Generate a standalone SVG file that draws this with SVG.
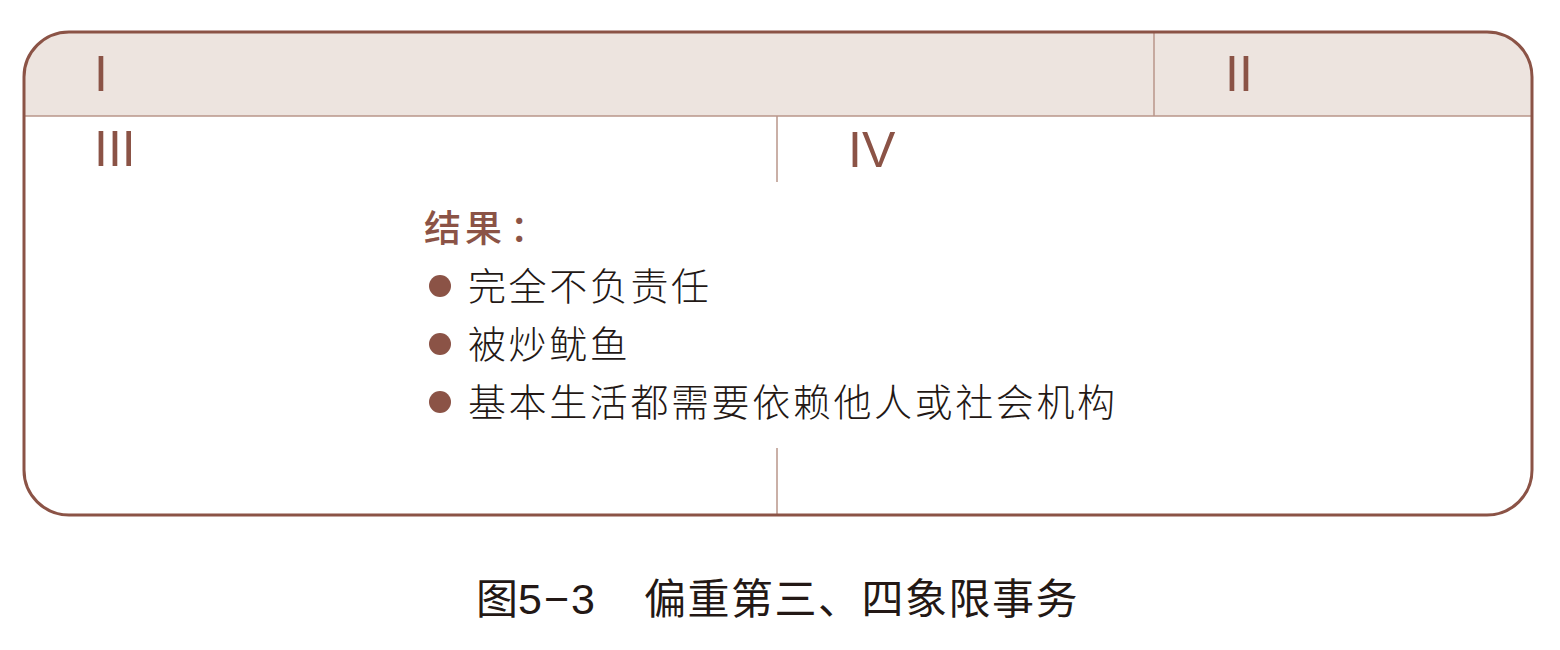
<svg xmlns="http://www.w3.org/2000/svg" width="1560" height="650" viewBox="0 0 1560 650">
<style>
.frame{fill:none;stroke:#8b5346;stroke-width:3}
.div{stroke:#b8968a;stroke-width:1.5;fill:none}
.rn{font-family:"Liberation Sans",Arial,sans-serif;font-size:50px;fill:#8b5346}
.head{font-family:"Noto Sans CJK SC",sans-serif;font-size:37px;font-weight:500;fill:#8b5346;letter-spacing:4px}
.item{font-family:"Noto Sans CJK SC",sans-serif;font-size:38px;font-weight:300;fill:#231815;letter-spacing:2.6px}
.dot{fill:#8b5346}
.cap{font-family:"Noto Sans CJK SC",sans-serif;font-size:42px;font-weight:400;fill:#231815}
.num{font-family:"Liberation Sans",Arial,sans-serif;font-size:43px;fill:#231815}
</style>
<rect width="1560" height="650" fill="#ffffff"/>
<g id="matrix">
<path d="M24,116 V77 A45,45 0 0 1 69,32 H1487 A45,45 0 0 1 1532,77 V116 Z" fill="#ede4df"/>
<g class="div">
<line x1="24" y1="116" x2="1532" y2="116"/>
<line x1="1154" y1="32" x2="1154" y2="116"/>
<line x1="777" y1="116" x2="777" y2="182"/>
<line x1="777" y1="448" x2="777" y2="515"/>
</g>
<rect class="frame" x="24" y="32" width="1508" height="483" rx="45" ry="45"/>
</g>
<g id="q1"><text class="rn" x="94" y="91">I</text></g>
<g id="q2"><text class="rn" x="1225" y="91">II</text></g>
<g id="q3"><text class="rn" x="94" y="166">III</text></g>
<g id="q4"><text class="rn" x="848" y="167">IV</text></g>
<g id="result">
<text class="head" x="424" y="242">结果<tspan dx="4">：</tspan></text>
<circle class="dot" cx="440" cy="286" r="11"/>
<text class="item" x="468" y="300">完全不负责任</text>
<circle class="dot" cx="440" cy="344" r="11"/>
<text class="item" x="468" y="358">被炒鱿鱼</text>
<circle class="dot" cx="440" cy="402" r="11"/>
<text class="item" x="468" y="416">基本生活都需要依赖他人或社会机构</text>
</g>
<g id="caption">
<text class="cap" x="476" y="614">图<tspan class="num" letter-spacing="2">5−3</tspan></text>
<text class="cap" x="644" y="614" letter-spacing="1.5">偏重第三、四象限事务</text>
</g>
</svg>
